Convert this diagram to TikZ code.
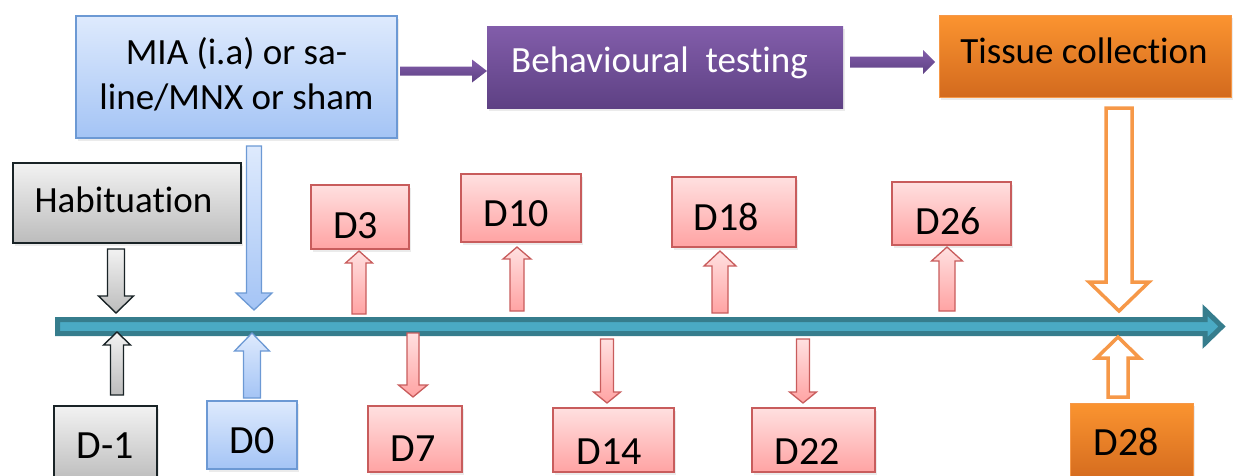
\documentclass[tikz,border=0pt]{standalone}
\usepackage{fontspec}
\setmainfont[Ligatures=NoCommon]{Carlito}
\usetikzlibrary{calc,fit,shadows}

\definecolor{redtop}{RGB}{255,224,224}
\definecolor{redbot}{RGB}{255,163,163}
\definecolor{redline}{RGB}{200,92,92}
\definecolor{bluetop}{RGB}{222,234,253}
\definecolor{bluebot}{RGB}{164,196,245}
\definecolor{blueline}{RGB}{108,153,212}
\definecolor{graytop}{RGB}{242,242,242}
\definecolor{graybot}{RGB}{188,188,188}
\definecolor{grayline}{RGB}{25,35,38}
\definecolor{orgtop}{RGB}{251,148,48}
\definecolor{orgbot}{RGB}{211,106,30}
\definecolor{orgline}{RGB}{246,152,72}
\definecolor{purtop}{RGB}{130,93,170}
\definecolor{purbot}{RGB}{94,65,132}
\definecolor{tealdark}{RGB}{54,125,141}
\definecolor{teallight}{RGB}{74,170,196}

\newcommand\arrdown[6]{\path[#1] ($(#2)+(-#4,0)$) -- ($(#3)+(-#4,-#6)$) -- ($(#3)+(-#5,-#6)$) -- (#3) -- ($(#3)+(#5,-#6)$) -- ($(#3)+(#4,-#6)$) -- ($(#2)+(#4,0)$) -- cycle;}
\newcommand\arrup[6]{\path[#1] ($(#2)+(-#4,0)$) -- ($(#3)+(-#4,#6)$) -- ($(#3)+(-#5,#6)$) -- (#3) -- ($(#3)+(#5,#6)$) -- ($(#3)+(#4,#6)$) -- ($(#2)+(#4,0)$) -- cycle;}
\newcommand\arrright[6]{\path[#1] ($(#2)+(0,-#4)$) -- ($(#3)+(-#6,-#4)$) -- ($(#3)+(-#6,-#5)$) -- (#3) -- ($(#3)+(-#6,#5)$) -- ($(#3)+(-#6,#4)$) -- ($(#2)+(0,#4)$) -- cycle;}

\tikzset{
  box/.style={inner sep=0pt, line width=1.3pt,
    drop shadow={opacity=0.16, shadow xshift=2pt, shadow yshift=-3pt}},
  rbox/.style={box, draw=redline, top color=redtop, bottom color=redbot},
  bbox/.style={box, draw=blueline, top color=bluetop, bottom color=bluebot},
  gbox/.style={box, draw=grayline, top color=graytop, bottom color=graybot},
  obox/.style={box, draw=orgline, line width=0.8pt, top color=orgtop, bottom color=orgbot},
  pbox/.style={box, draw=none, top color=purtop, bottom color=purbot},
  lbl/.style={inner sep=0pt, anchor=base, font=\fontsize{37}{45}\selectfont},
  dlbl/.style={inner sep=0pt, anchor=base, font=\fontsize{40}{48}\selectfont},
  rarr/.style={draw=redline, line width=1.3pt, top color=redtop, bottom color=redbot},
  barr/.style={draw=blueline, line width=1.3pt, top color=bluetop, bottom color=bluebot},
  garr/.style={draw=grayline, line width=1.4pt, top color=graytop, bottom color=graybot},
  oarr/.style={draw=orgline, line width=3.5pt, fill=white},
  parr/.style={top color=purtop, bottom color=purbot},
}

\begin{document}
\begin{tikzpicture}[x=1pt,y=-1pt]
\useasboundingbox (0,0) rectangle (1240,475);

% timeline
\coordinate (t0) at (57.5,326.5);
\coordinate (t1) at (1222,326.5);
\draw[draw=tealdark, fill=teallight, line width=5pt, line join=miter]
  ($(t0)+(0,-7)$) -- ($(t1)+(-17,-7)$) -- ($(t1)+(-17,-16.5)$) -- (t1)
  -- ($(t1)+(-17,16.5)$) -- ($(t1)+(-17,7)$) -- ($(t0)+(0,7)$) -- cycle;

% top boxes
\node[bbox, fit={(76,16) (397,138)}] (mia) {};
\node[inner sep=0pt, align=center, font=\fontsize{37}{45}\selectfont] (miaT) at (236.5,74) {MIA (i.a) or sa-\\line/MNX or sham};
\node[pbox, fit={(487,26) (843,108)}] (beh) {};
\node[lbl, text=white] (behT) at (659.5,72) {Behavioural\ \ testing};
\node[obox, fit={(939,15) (1231,97)}] (tis) {};
\node[lbl] (tisT) at (1084,63) {Tissue collection};

% purple arrows
\coordinate (p1a) at (400,71);
\coordinate (p1b) at (487,71);
\arrright{parr}{p1a}{p1b}{4.5}{11.5}{15}
\coordinate (p2a) at (850,62);
\coordinate (p2b) at (935,62);
\arrright{parr}{p2a}{p2b}{5.5}{12}{12}

% habituation
\node[gbox, fit={(13,163) (241,243)}] (hab) {};
\node[lbl] (habT) at (123.5,212) {Habituation};

% upper day boxes
\node[rbox, fit={(311,185) (409,249)}] (d3) {};
\node[dlbl] (d3T) at (355.5,238) {D3};
\node[rbox, fit={(461,174) (581,242)}] (d10) {};
\node[dlbl] (d10T) at (516,226) {D10};
\node[rbox, fit={(672,177) (796,247)}] (d18) {};
\node[dlbl] (d18T) at (726,230) {D18};
\node[rbox, fit={(892,182) (1011,245)}] (d26) {};
\node[dlbl] (d26T) at (948,234) {D26};

% lower day boxes
\node[gbox, fit={(54,406) (157,482)}] (dm1) {};
\node[dlbl] (dm1T) at (105.5,458) {D-1};
\node[bbox, fit={(207,401) (297,469)}] (d0) {};
\node[dlbl] (d0T) at (252,453) {D0};
\node[rbox, fit={(368,406) (462,472)}] (d7) {};
\node[dlbl] (d7T) at (413,461) {D7};
\node[rbox, fit={(553,408) (674,472)}] (d14) {};
\node[dlbl] (d14T) at (609,464) {D14};
\node[rbox, fit={(752,408) (875,472)}] (d22) {};
\node[dlbl] (d22T) at (807.5,464) {D22};
\node[obox, fit={(1070,403) (1193,482)}] (d28) {};
\node[dlbl] (d28T) at (1126.5,455) {D28};

% gray arrows
\coordinate (ha) at (116,249);  \coordinate (hb) at (116,313);
\arrdown{garr}{ha}{hb}{8.5}{17.5}{17}
\coordinate (ma) at (117,395);  \coordinate (mb) at (117,332);
\arrup{garr}{ma}{mb}{6.5}{13.5}{13}

% blue arrows
\coordinate (ia) at (254,146);  \coordinate (ib) at (254,310);
\arrdown{barr}{ia}{ib}{7.5}{18}{17}
\coordinate (za) at (252,398);  \coordinate (zb) at (252,333);
\arrup{barr}{za}{zb}{8.5}{17.5}{18}

% red arrows up
\coordinate (a3a) at (359,314);  \coordinate (a3b) at (359,251);
\arrup{rarr}{a3a}{a3b}{7}{13.5}{12}
\coordinate (a10a) at (517,311); \coordinate (a10b) at (517,247);
\arrup{rarr}{a10a}{a10b}{7}{14}{12}
\coordinate (a18a) at (720,313); \coordinate (a18b) at (720,251);
\arrup{rarr}{a18a}{a18b}{8}{16}{15}
\coordinate (a26a) at (947,311); \coordinate (a26b) at (947,247);
\arrup{rarr}{a26a}{a26b}{8}{15.5}{14}

% red arrows down
\coordinate (a7a) at (413,333);  \coordinate (a7b) at (413,397);
\arrdown{rarr}{a7a}{a7b}{6}{14.5}{12}
\coordinate (a14a) at (607,339); \coordinate (a14b) at (607,403);
\arrdown{rarr}{a14a}{a14b}{6.5}{13.5}{11}
\coordinate (a22a) at (803,339); \coordinate (a22b) at (803,403);
\arrdown{rarr}{a22a}{a22b}{6.5}{13.5}{11}

% orange hollow arrows
\coordinate (oa) at (1119,108);  \coordinate (ob) at (1119,311);
\arrdown{oarr}{oa}{ob}{13}{30}{29}
\coordinate (qa) at (1118,397);  \coordinate (qb) at (1118,337);
\arrup{oarr}{qa}{qb}{10}{21.5}{21}
\end{tikzpicture}
\end{document}
